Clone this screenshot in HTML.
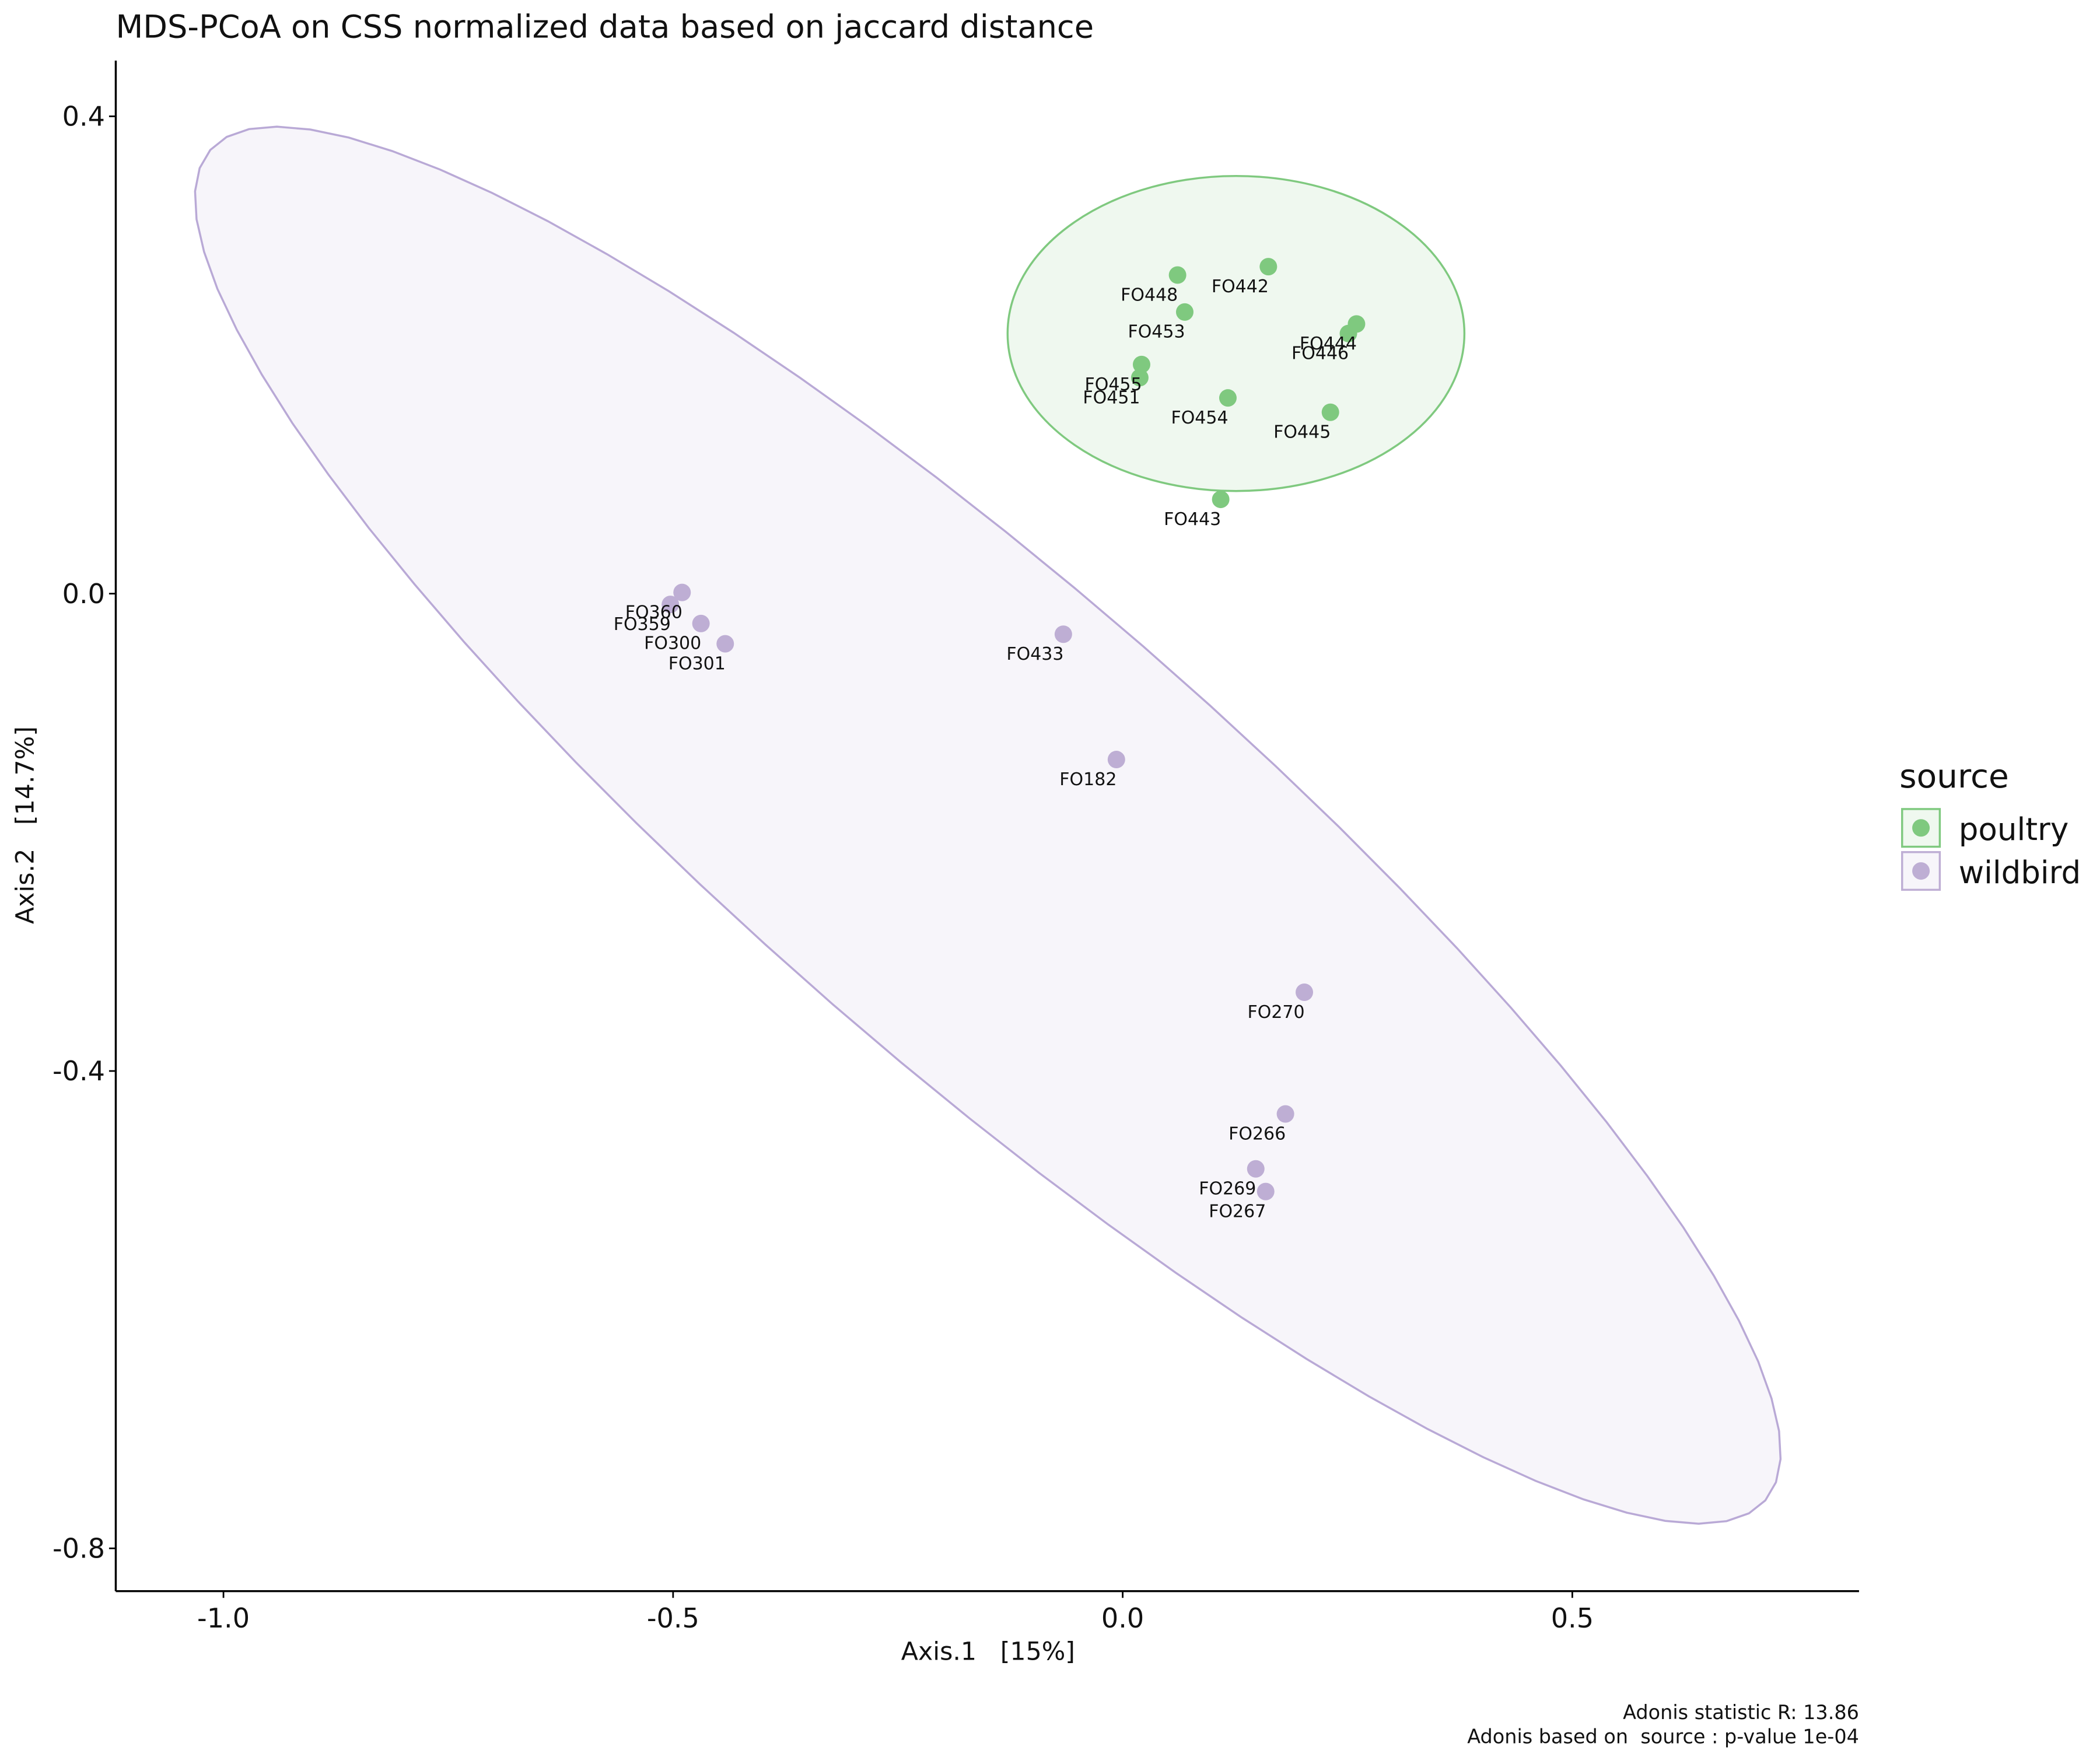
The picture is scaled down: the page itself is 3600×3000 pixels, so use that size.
<!DOCTYPE html>
<html><head><meta charset="utf-8">
<style>
html,body{margin:0;padding:0;background:#fff;}
svg{display:block;font-family:"DejaVu Sans","Liberation Sans",sans-serif;}
text{white-space:pre;}
</style></head>
<body>
<svg id="chart" width="3600" height="3000" viewBox="0 0 1560 1300" xmlns="http://www.w3.org/2000/svg">
<rect x="0" y="0" width="1560" height="1300" fill="#fff"/>
<text x="86" y="28" font-size="23.5" fill="#111">MDS-PCoA on CSS normalized data based on jaccard distance</text>
<g id="ellipses"></g>
<g id="points"></g>
<g id="labels"></g>
<g id="axes"></g>
<text x="734" y="1233" font-size="18.5" text-anchor="middle" fill="#111" xml:space="preserve">Axis.1   [15%]</text>
<text transform="translate(25,613) rotate(-90)" font-size="18.5" text-anchor="middle" fill="#111" xml:space="preserve">Axis.2   [14.7%]</text>
<g>
<text x="1411" y="585" font-size="24.5" fill="#111">source</text>
<g>
<rect x="1413" y="601" width="28" height="28" fill="rgba(127,201,127,0.12)" stroke="#7fc97f" stroke-width="1.5"/>
<circle cx="1427" cy="615" r="6.5" fill="#7fc97f"/>
<text x="1455" y="624" font-size="23" fill="#111">poultry</text>
</g>
<g>
<rect x="1413" y="633" width="28" height="28" fill="rgba(190,174,212,0.12)" stroke="#beaed4" stroke-width="1.5"/>
<circle cx="1427" cy="647" r="6.5" fill="#beaed4"/>
<text x="1455" y="656" font-size="23" fill="#111">wildbird</text>
</g>
</g>
<text x="1381" y="1277" font-size="14.5" text-anchor="end" fill="#111" xml:space="preserve">Adonis statistic R: 13.86</text>
<text x="1381" y="1295" font-size="14.5" text-anchor="end" fill="#111" xml:space="preserve">Adonis based on  source : p-value 1e-04</text>
</svg>
<script>
const poultryNames = ["FO442","FO448","FO453","FO444","FO446","FO455","FO451","FO454","FO445","FO443"];
const poultryX = [0.162,0.061,0.069,0.260,0.251,0.021,0.019,0.117,0.231,0.109];
const poultryY = [0.274,0.267,0.236,0.226,0.218,0.192,0.181,0.164,0.152,0.079];
const wildNames = ["FO360","FO359","FO300","FO301","FO433","FO182","FO270","FO266","FO269","FO267"];
const wildX = [-0.490,-0.503,-0.469,-0.442,-0.066,-0.007,0.202,0.181,0.148,0.159];
const wildY = [0.001,-0.009,-0.025,-0.042,-0.034,-0.139,-0.334,-0.436,-0.482,-0.501];
const xTicks = [-1.0,-0.5,0.0,0.5];
const xTickLabels = ["-1.0","-0.5","0.0","0.5"];
const yTicks = [0.4,0.0,-0.4,-0.8];
const yTickLabels = ["0.4","0.0","-0.4","-0.8"];
const poultryEllipseCenter = [0.126,0.218];
const poultryEllipseRadii = [0.254,0.132];
const wildEllipseCenter = [-0.150,-0.194];

const L=86,R=1381,T=45,B=1182;
function sx(v){return 834+v*668;}
function sy(v){return 441-v*886.5;}
const NS="http://www.w3.org/2000/svg";
function mk(tag,attrs,parent){const e=document.createElementNS(NS,tag);for(const k in attrs)e.setAttribute(k,attrs[k]);parent.appendChild(e);return e;}

const gE=document.getElementById('ellipses');
{
  const cx=sx(wildEllipseCenter[0]),cy=sy(wildEllipseCenter[1]);
  const a=765,b=176,ang=Math.atan2(1016,1170);
  let pts=[];
  for(let i=0;i<72;i++){const t=i/72*2*Math.PI;const px=a*Math.cos(t),py=b*Math.sin(t);
    pts.push((cx+px*Math.cos(ang)-py*Math.sin(ang)).toFixed(1)+","+(cy+px*Math.sin(ang)+py*Math.cos(ang)).toFixed(1));}
  const p=mk('polygon',{points:pts.join(' '),fill:'rgba(190,174,212,0.12)',stroke:'#b9a9d6','stroke-width':1.5},gE);
  
  
}
{
  const cx=sx(poultryEllipseCenter[0]),cy=sy(poultryEllipseCenter[1]);
  const rx=poultryEllipseRadii[0]*668,ry=poultryEllipseRadii[1]*886.5;
  const p=mk('ellipse',{cx:cx,cy:cy,rx:rx,ry:ry,fill:'rgba(127,201,127,0.12)',stroke:'#7fc97f','stroke-width':1.5},gE);
  
  
}
const gP=document.getElementById('points'),gL=document.getElementById('labels');
function drawSeries(names,xs,ys,col){
  for(let i=0;i<names.length;i++){
    const c=mk('circle',{cx:sx(xs[i]),cy:sy(ys[i]),r:6.5,fill:col},gP);
    
    
    const t=mk('text',{x:sx(xs[i])-21,y:sy(ys[i])+19,'font-size':13,'text-anchor':'middle',fill:'#111'},gL);
    t.textContent=names[i];
    
    
  }
}
drawSeries(poultryNames,poultryX,poultryY,'#7fc97f');
drawSeries(wildNames,wildX,wildY,'#beaed4');

const gA=document.getElementById('axes');
const xl=mk('line',{x1:L,y1:B,x2:R,y2:B,stroke:'#000','stroke-width':1.5},gA);


const yl=mk('line',{x1:L,y1:T,x2:L,y2:B,stroke:'#000','stroke-width':1.5},gA);


xTicks.forEach((v,i)=>{
  const x=sx(v);
  mk('line',{x1:x,y1:B,x2:x,y2:B+5,stroke:'#000','stroke-width':1.2},gA);
  const t=mk('text',{x:x,y:B+27,'font-size':20,'text-anchor':'middle',fill:'#111'},gA);
  t.textContent=xTickLabels[i];
  
  
});
yTicks.forEach((v,i)=>{
  const y=sy(v);
  mk('line',{x1:L-5,y1:y,x2:L,y2:y,stroke:'#000','stroke-width':1.2},gA);
  const t=mk('text',{x:L-8,y:y+7,'font-size':20,'text-anchor':'end',fill:'#111'},gA);
  t.textContent=yTickLabels[i];
  
  
});
</script>
</body></html>
